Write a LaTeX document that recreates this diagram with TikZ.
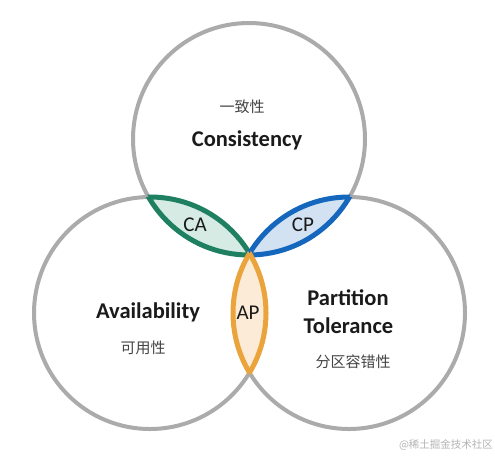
\documentclass[tikz,border=0pt]{standalone}
\usepackage{fontspec}
\setmainfont{Carlito}
\newfontfamily\cjk{Noto Sans CJK SC}
\definecolor{ringgray}{HTML}{ABABAB}
\definecolor{cagreen}{HTML}{1E8060}
\definecolor{cafill}{HTML}{D5EBE4}
\definecolor{cpblue}{HTML}{1467BD}
\definecolor{cpfill}{HTML}{D3E2F2}
\definecolor{aporange}{HTML}{EBA33C}
\definecolor{apfill}{HTML}{FCEBD6}
\definecolor{txt}{HTML}{1A1A1A}
\definecolor{cjktxt}{HTML}{444444}
\definecolor{wm}{HTML}{B4B4B4}
\tikzset{
  ring/.style={draw=ringgray, line width=4pt},
  lensline/.style={line width=5pt},
  bigtxt/.style={font=\fontsize{22.5}{24}\selectfont\bfseries, text=txt, inner sep=0pt},
  lenstxt/.style={font=\fontsize{21}{23}\selectfont, text=txt, inner sep=0pt},
  cjktxt/.style={font=\cjk\fontsize{15}{17}\selectfont, text=cjktxt, inner sep=0pt},
}
\begin{document}
\begin{tikzpicture}[x=1pt,y=-1pt]
\useasboundingbox (0,0) rectangle (495,456);
\fill[white] (0,0) rectangle (495,456);
\def\R{116}
\coordinate (T) at (249,139);
\coordinate (L) at (150,313);
\coordinate (Rt) at (349,313);
% rings
\draw[ring] (T) circle [radius=\R];
\draw[ring] (L) circle [radius=\R];
\draw[ring] (Rt) circle [radius=\R];
% CA lens
\begin{scope}
  \clip (T) circle [radius=\R];
  \fill[cafill] (L) circle [radius=\R];
  \draw[lensline, cagreen] (L) circle [radius=\R];
\end{scope}
\begin{scope}
  \clip (L) circle [radius=\R];
  \draw[lensline, cagreen] (T) circle [radius=\R];
\end{scope}
% CP lens
\begin{scope}
  \clip (T) circle [radius=\R];
  \fill[cpfill] (Rt) circle [radius=\R];
  \draw[lensline, cpblue] (Rt) circle [radius=\R];
\end{scope}
\begin{scope}
  \clip (Rt) circle [radius=\R];
  \draw[lensline, cpblue] (T) circle [radius=\R];
\end{scope}
% AP lens
\begin{scope}
  \clip (L) circle [radius=\R];
  \fill[apfill] (Rt) circle [radius=\R];
  \draw[lensline, aporange] (Rt) circle [radius=\R];
\end{scope}
\begin{scope}
  \clip (Rt) circle [radius=\R];
  \draw[lensline, aporange] (L) circle [radius=\R];
\end{scope}
% texts
\node[cjktxt] (c1) at (242,107) {一致性};
\node[bigtxt] (c2) at (247,140) {Consistency};
\node[lenstxt] (ca) at (195,225) {CA};
\node[lenstxt] (cp) at (303,225) {CP};
\node[lenstxt] (ap) at (248,313) {AP};
\node[bigtxt] (a1) at (148,312) {Availability};
\node[cjktxt] (a2) at (143,348) {可用性};
\node[bigtxt] (p1) at (348,298) {Partition};
\node[bigtxt] (p2) at (348.5,326) {Tolerance};
\node[cjktxt] (p3) at (353,362) {分区容错性};
\node[font=\cjk\fontsize{10.5}{12}\selectfont, text=wm, inner sep=0pt] (wm) at (446,445) {@稀土掘金技术社区};
\end{tikzpicture}
\end{document}
